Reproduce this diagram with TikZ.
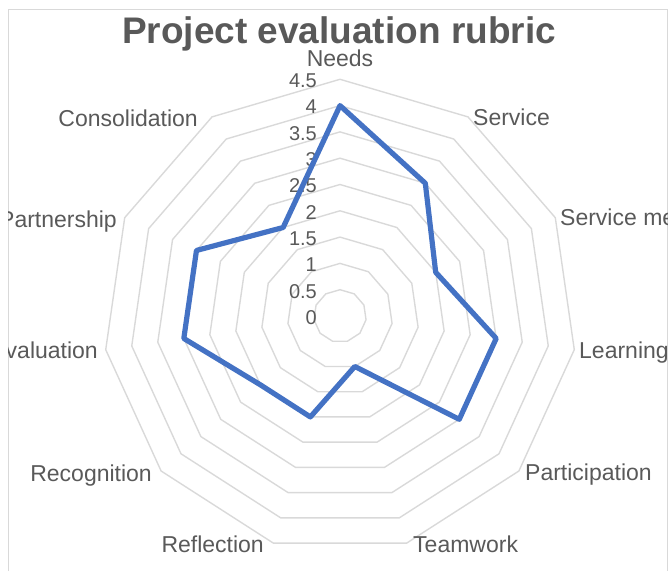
\documentclass[tikz,border=0pt]{standalone}
\usepackage{fontspec}
\setmainfont{Liberation Sans}
\usepackage{tikz}
\usepackage{xcolor}

\definecolor{txtgray}{HTML}{595959}
\definecolor{gridgray}{HTML}{D9D9D9}
\definecolor{serblue}{HTML}{4472C4}

\tikzset{
  gridline/.style={gridgray, line width=1.4pt},
  series/.style={serblue, line width=5.2pt, line join=round},
  catlabel/.style={txtgray, inner sep=0pt, font=\fontsize{23}{23}\selectfont},
  ticklabel/.style={txtgray, inner sep=0pt, anchor=east, font=\fontsize{20}{20}\selectfont}
}

\begin{document}
\begin{tikzpicture}[x=1pt,y=1pt]
		\useasboundingbox (0,0) rectangle (668,571);
		\draw[gridgray, line width=1pt] (8,0)--(8,561)--(667,561)--(667,0);
		\begin{scope}
		\clip (8,0) rectangle (667,561);

		% title
		\node[txtgray, inner sep=0pt, anchor=base] (title) at (339,527)
			{\fontsize{37}{38}\selectfont\bfseries Project evaluation rubric};

		% grid polygons, 0.5 to 4.5
		\begin{scope}[shift={(340,255)}]
			\foreach \lv in {1,...,9}
				\draw[gridline] (90:\lv*26.3) \foreach \k in {1,...,10}{ -- ({90-\k*360/11}:\lv*26.3)} -- cycle;
		\end{scope}

		% scale
		\foreach \t [count=\i from 0] in {0,0.5,1,1.5,2,2.5,3,3.5,4,4.5}
			\node[ticklabel] (tick\i) at (317,{253.5+\i*26.3}) {\t};

		% categories
		\node[catlabel, anchor=base] (needs) at (340,504) {Needs};
		\node[catlabel, anchor=base west] (service) at (473,445) {Service};
		\node[catlabel, anchor=base west] (servmeth) at (560,345) {Service me};
		\node[catlabel, anchor=base west] (learning) at (579,213) {Learning};
		\node[catlabel, anchor=base west] (particip) at (525,91) {Participation};
		\node[catlabel, anchor=base west] (teamwork) at (413,19) {Teamwork};
		\node[catlabel, anchor=base east] (reflect) at (264,19) {Reflection};
		\node[catlabel, anchor=base east] (recogn) at (152,90) {Recognition};
		\node[catlabel, anchor=base east] (evaluat) at (98,213) {Evaluation};
		\node[catlabel, anchor=base east] (partner) at (117,344) {Partnership};
		\node[catlabel, anchor=base east] (consol) at (198,444) {Consolidation};

		% scores
		\begin{scope}[shift={(340,255)}]
			\foreach \v [count=\k from 0] in {4,3,2,3,3,1,2,2,3,3,2}
				\coordinate (p\k) at ({90-\k*360/11}:{\v*52.6});
			\draw[series] (p0)--(p1)--(p2)--(p3)--(p4)--(p5)--(p6)--(p7)--(p8)--(p9)--(p10)--cycle;
		\end{scope}
		\end{scope}

	\end{tikzpicture}
\end{document}
